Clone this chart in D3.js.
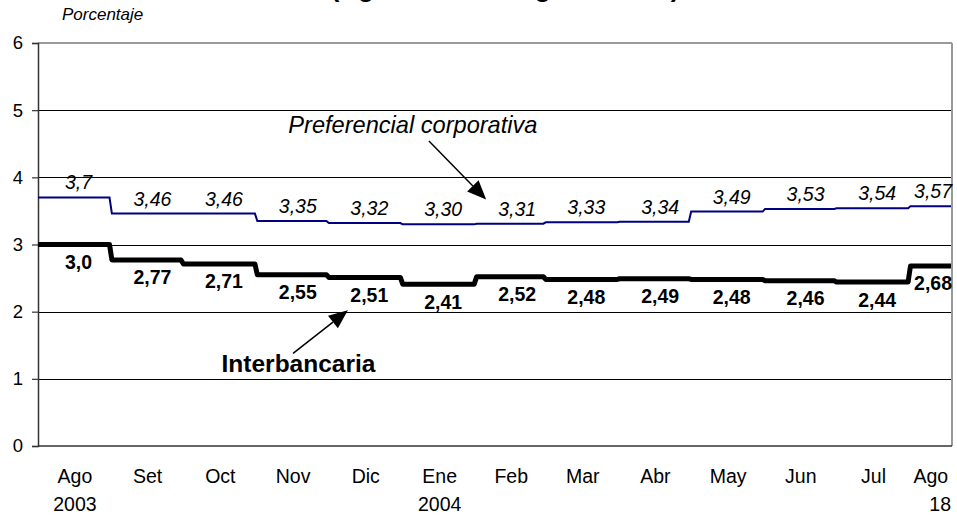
<!DOCTYPE html>
<html>
<head>
<meta charset="utf-8">
<script src="https://cdn.jsdelivr.net/npm/d3@7"></script>
<style>
  html, body { margin: 0; padding: 0; background: #fff; }
  svg { display: block; font-family: Arial, "Liberation Sans", sans-serif; }
</style>
</head>
<body>
<svg id="chart" width="957" height="515"></svg>
<script>
// ---------------- DATA ----------------
const monthLabels = ["Ago","Set","Oct","Nov","Dic","Ene","Feb","Mar","Abr","May","Jun","Jul","Ago"];
const yearLabels  = ["2003","","","","","2004","","","","","","","18"];
const monthStarts = ["2003-08-01","2003-09-01","2003-10-01","2003-11-01","2003-12-01","2004-01-01",
                     "2004-02-01","2004-03-01","2004-04-01","2004-05-01","2004-06-01","2004-07-01","2004-08-01"];
const endDate = "2004-08-18";
const preferencial  = [3.70, 3.46, 3.46, 3.35, 3.32, 3.30, 3.31, 3.33, 3.34, 3.49, 3.53, 3.54, 3.57];
const interbancaria = [3.00, 2.77, 2.71, 2.55, 2.51, 2.41, 2.52, 2.48, 2.49, 2.48, 2.46, 2.44, 2.68];
const preferencialText  = ["3,7","3,46","3,46","3,35","3,32","3,30","3,31","3,33","3,34","3,49","3,53","3,54","3,57"];
const interbancariaText = ["3,0","2,77","2,71","2,55","2,51","2,41","2,52","2,48","2,49","2,48","2,46","2,44","2,68"];
const yTicks = [0, 1, 2, 3, 4, 5, 6];
const titleText = "(Agosto 2003 - Agosto 2004)";
const yAxisTitle = "Porcentaje";

// ---------------- LAYOUT ----------------
const parse = d3.timeParse("%Y-%m-%d");
const starts = monthStarts.map(parse);
const end = parse(endDate);
const svg = d3.select("#chart");
const plotLeft = 38, plotRight = 951, plotTop = 43, plotBottom = 446;

const x = d3.scaleTime().domain([starts[0], end]).range([plotLeft, plotRight]);
const y = d3.scaleLinear().domain([0, 6]).range([plotBottom, plotTop]);

// Title (mostly cut off at top edge, as in the original)
svg.append("text")
  .attr("x", 505).attr("y", -3)
  .attr("text-anchor", "middle")
  .attr("font-size", 26).attr("font-weight", "bold")
  .text(titleText);

svg.append("text")
  .attr("x", 62).attr("y", 20)
  .attr("font-size", 17).attr("font-style", "italic")
  .text(yAxisTitle);

// gridlines
svg.append("g").selectAll("line")
  .data(yTicks.filter(t => t > 0 && t < 6))
  .join("line")
  .attr("x1", plotLeft).attr("x2", plotRight)
  .attr("y1", d => Math.round(y(d)) + 0.5).attr("y2", d => Math.round(y(d)) + 0.5)
  .attr("stroke", "#000").attr("stroke-width", 1);

// top and right border (gray)
svg.append("line")
  .attr("x1", plotLeft).attr("x2", plotRight + 1)
  .attr("y1", y(6)).attr("y2", y(6))
  .attr("stroke", "#9a9a9a").attr("stroke-width", 2);
svg.append("line")
  .attr("x1", plotRight + 1).attr("x2", plotRight + 1)
  .attr("y1", y(6)).attr("y2", y(0))
  .attr("stroke", "#9a9a9a").attr("stroke-width", 2);

// y axis
const yAxis = d3.axisLeft(y).tickValues(yTicks).tickSize(6).tickPadding(9).tickFormat(d3.format("d"));
const gy = svg.append("g").attr("transform", `translate(${plotLeft},0)`).call(yAxis);
gy.select(".domain").attr("stroke", "#333").attr("stroke-width", 1.5);
gy.selectAll(".tick line").attr("stroke", "#333").attr("stroke-width", 1.2);
gy.selectAll(".tick text").attr("font-size", 18.5).attr("fill", "#000")
  .attr("font-family", "Arial, 'Liberation Sans', sans-serif");

// x axis baseline
svg.append("line")
  .attr("x1", plotLeft).attr("x2", plotRight + 1)
  .attr("y1", y(0)).attr("y2", y(0))
  .attr("stroke", "#333").attr("stroke-width", 1.5);

// month labels at month mid-points
const monthEnds = starts.map((s, i) => i < starts.length - 1 ? starts[i + 1] : end);
const mid = i => new Date((starts[i].getTime() + monthEnds[i].getTime()) / 2);
svg.append("g").selectAll("text")
  .data(monthLabels)
  .join("text")
  .attr("x", (d, i) => x(mid(i)))
  .attr("y", 483)
  .attr("text-anchor", "middle")
  .attr("font-size", 19.5)
  .text(d => d);
svg.append("g").selectAll("text")
  .data(yearLabels)
  .join("text")
  .attr("x", (d, i) => i === yearLabels.length - 1 ? x(end) : x(mid(i)))
  .attr("y", 511)
  .attr("text-anchor", (d, i) => i === yearLabels.length - 1 ? "end" : "middle")
  .attr("font-size", 19.5)
  .text(d => d);

// step lines: each monthly level holds from the first to the last day of its month
function stepPoints(vals) {
  const pts = [];
  starts.forEach((s, i) => {
    const last = i < starts.length - 1 ? d3.timeDay.offset(starts[i + 1], -1) : end;
    pts.push({ date: s, v: vals[i] });
    pts.push({ date: last, v: vals[i] });
  });
  return pts;
}
const line = d3.line().x(d => x(d.date)).y(d => y(d.v));

svg.append("path")
  .datum(stepPoints(preferencial))
  .attr("d", line)
  .attr("fill", "none").attr("stroke", "#000080").attr("stroke-width", 2);

svg.append("path")
  .datum(stepPoints(interbancaria))
  .attr("d", line)
  .attr("fill", "none").attr("stroke", "#000").attr("stroke-width", 5)
  .attr("stroke-linejoin", "round");

// value labels anchored at the 18th of each month
const labelDate = i => d3.timeDay.offset(starts[i], 17);
function labelX(i, w) {
  let cx = x(labelDate(i));
  if (cx + w / 2 > plotRight + 1) cx = plotRight + 1 - w / 2;
  return cx;
}
const gp = svg.append("g");
preferencialText.forEach((t, i) => {
  const txt = gp.append("text")
    .attr("y", y(preferencial[i]) - 8)
    .attr("text-anchor", "middle")
    .attr("font-size", 19.5).attr("font-style", "italic")
    .text(t);
  const w = txt.node().getComputedTextLength();
  txt.attr("x", labelX(i, w));
});
const gi = svg.append("g");
interbancariaText.forEach((t, i) => {
  const txt = gi.append("text")
    .attr("y", y(interbancaria[i]) + 24.5)
    .attr("text-anchor", "middle")
    .attr("font-size", 19.5).attr("font-weight", "bold")
    .text(t);
  const w = txt.node().getComputedTextLength();
  txt.attr("x", labelX(i, w));
});

// annotations (positioned in data coordinates)
function arrow(fromDate, fromV, toDate, toV) {
  const x1 = x(parse(fromDate)), y1 = y(fromV), x2 = x(parse(toDate)), y2 = y(toV);
  const ang = Math.atan2(y2 - y1, x2 - x1);
  const L = 19, W = 8;
  const bx = x2 - L * Math.cos(ang), by = y2 - L * Math.sin(ang);
  svg.append("line")
    .attr("x1", x1).attr("y1", y1).attr("x2", bx).attr("y2", by)
    .attr("stroke", "#000").attr("stroke-width", 1.5);
  svg.append("path")
    .attr("d", `M${x2},${y2}L${bx + W * Math.sin(ang)},${by - W * Math.cos(ang)}L${bx - W * Math.sin(ang)},${by + W * Math.cos(ang)}Z`)
    .attr("fill", "#000");
}

svg.append("text")
  .attr("x", x(parse("2003-11-14"))).attr("y", y(4.66))
  .attr("font-size", 23.6).attr("font-style", "italic")
  .text("Preferencial corporativa");
arrow("2004-01-12", 4.54, "2004-02-05", 3.67);

svg.append("text")
  .attr("x", x(parse("2003-10-17"))).attr("y", y(1.095))
  .attr("font-size", 24.5).attr("font-weight", "bold")
  .text("Interbancaria");
arrow("2003-11-16", 1.38, "2003-12-09", 2.02);
</script>
</body>
</html>
